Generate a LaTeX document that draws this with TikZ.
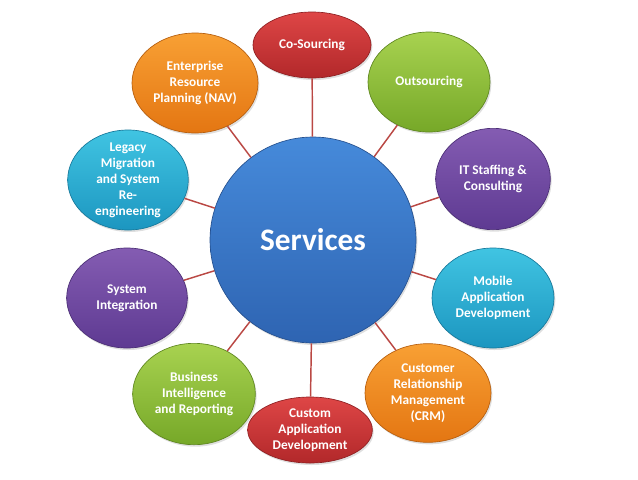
\documentclass[tikz,border=0pt]{standalone}
\usepackage{fontspec}
\setmainfont{Carlito}
\usetikzlibrary{shapes,shadows,positioning,calc}

\definecolor{spokered}{RGB}{186,72,68}
\definecolor{hubtop}{RGB}{70,138,218}
\definecolor{hubbot}{RGB}{46,100,178}
\definecolor{redtop}{RGB}{222,70,70}
\definecolor{redbot}{RGB}{178,40,42}
\definecolor{orangetop}{RGB}{248,160,52}
\definecolor{orangebot}{RGB}{228,118,18}
\definecolor{greentop}{RGB}{168,210,80}
\definecolor{greenbot}{RGB}{118,168,40}
\definecolor{cyantop}{RGB}{64,196,226}
\definecolor{cyanbot}{RGB}{28,150,192}
\definecolor{purpletop}{RGB}{132,92,178}
\definecolor{purplebot}{RGB}{94,58,146}

\begin{document}
\begin{tikzpicture}[x=0.75pt,y=-0.75pt,
	bubble/.style n args={2}{ellipse, inner sep=0pt, draw=#2!80!black, line width=0.5pt,
		top color=#1, bottom color=#2,
		drop shadow={opacity=0.25, shadow xshift=1pt, shadow yshift=-1.5pt}},
	btext/.style={text=white, font=\bfseries\fontsize{10}{12}\selectfont, align=center},
	spoke/.style={draw=spokered, line width=1.1pt}]
	\useasboundingbox (0,0) rectangle (638,479);

	% hub
	\node[circle, minimum size=154.5pt, inner sep=0pt, draw=hubbot!80!black, line width=0.5pt,
		top color=hubtop, bottom color=hubbot,
		drop shadow={opacity=0.25, shadow xshift=1pt, shadow yshift=-1.5pt},
		text=white, font=\bfseries\fontsize{23.5}{26}\selectfont] (hub) at (313,240) {Services};

	% satellites
	\node[bubble={redtop}{redbot}, minimum width=88.5pt, minimum height=49.5pt,
		label={[btext]center:Co-Sourcing}] (cosrc) at (312,45) {};
	\node[bubble={greentop}{greenbot}, minimum width=91.5pt, minimum height=75pt,
		label={[btext]center:Outsourcing}] (outsrc) at (429,82) {};
	\node[bubble={purpletop}{purplebot}, minimum width=86pt, minimum height=76pt,
		label={[btext]center:IT Staffing \&\\Consulting}] (staff) at (493,179) {};
	\node[bubble={cyantop}{cyanbot}, minimum width=91.5pt, minimum height=75pt,
		label={[btext]center:Mobile\\Application\\Development}] (mobile) at (493,298) {};
	\node[bubble={orangetop}{orangebot}, minimum width=94.5pt, minimum height=74pt,
		label={[btext]center:Customer\\Relationship\\Management\\(CRM)}] (crm) at (428,393) {};
	\node[bubble={redtop}{redbot}, minimum width=93.5pt, minimum height=49.5pt,
		label={[btext]center:Custom\\Application\\Development}] (custom) at (310,430) {};
	\node[bubble={greentop}{greenbot}, minimum width=92pt, minimum height=76pt,
		label={[btext]center:Business\\Intelligence\\and Reporting}] (bizint) at (194,394) {};
	\node[bubble={purpletop}{purplebot}, minimum width=90.5pt, minimum height=75pt,
		label={[btext]center:System\\Integration}] (sysint) at (127,298) {};
	\node[bubble={cyantop}{cyanbot}, minimum width=90.5pt, minimum height=75pt,
		label={[btext]center:Legacy\\Migration\\and System\\Re-\\engineering}] (legacy) at (128,180) {};
	\node[bubble={orangetop}{orangebot}, minimum width=94.5pt, minimum height=75pt,
		label={[btext]center:Enterprise\\Resource\\Planning (NAV)}] (erp) at (195,83) {};

	% spokes
	\foreach \s in {cosrc,outsrc,staff,mobile,crm,custom,bizint,sysint,legacy,erp}
		\draw[spoke] (hub) -- (\s);
\end{tikzpicture}
\end{document}
